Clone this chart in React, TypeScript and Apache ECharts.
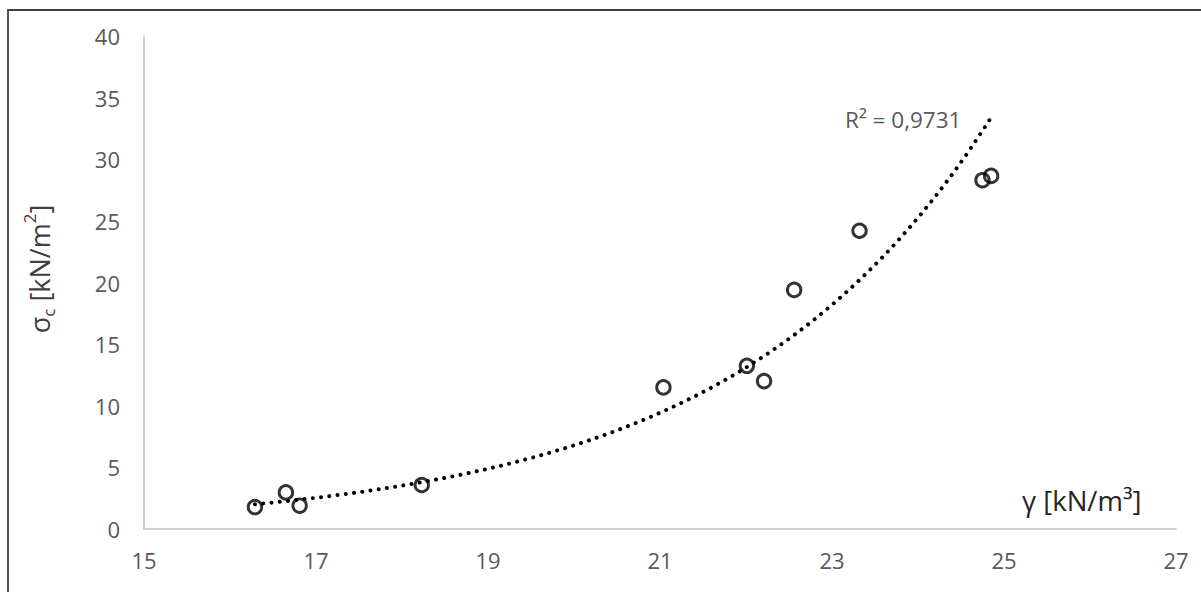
import React, { useEffect, useRef } from "react";
import * as echarts from "echarts";

// Measured data points (γ [kN/m³], σc [kN/m²])
const gammaValues = [16.29, 16.65, 16.81, 18.23, 21.04, 22.01, 22.21, 22.56, 23.32, 24.75, 24.85];
const sigmaValues = [1.78, 2.97, 1.89, 3.57, 11.49, 13.24, 12.0, 19.4, 24.2, 28.3, 28.65];

const xAxisRange = [15, 27];
const yAxisRange = [0, 40];
const xLabelValues = [15, 17, 19, 21, 23, 25, 27];
const yLabelStep = 5;

const rSquaredText = "R\u00B2 = 0,9731";
const xTitle = "\u03B3 [kN/m\u00B3]";

// Exponential trendline (least squares on ln y), as a spreadsheet computes it
function expFit(xs: number[], ys: number[]) {
  const n = xs.length;
  const ly = ys.map((v) => Math.log(v));
  const mx = xs.reduce((a, b) => a + b, 0) / n;
  const my = ly.reduce((a, b) => a + b, 0) / n;
  let sxy = 0;
  let sxx = 0;
  for (let i = 0; i < n; i++) {
    sxy += (xs[i] - mx) * (ly[i] - my);
    sxx += (xs[i] - mx) * (xs[i] - mx);
  }
  const b = sxy / sxx;
  const a = Math.exp(my - b * mx);
  return { a, b };
}

export default function App() {
  const ref = useRef<HTMLDivElement>(null);

  useEffect(() => {
    if (!ref.current) return;
    const chart = echarts.init(ref.current, undefined, { renderer: "svg" });

    const points = gammaValues.map((g, i) => [g, sigmaValues[i]]);
    const { a, b } = expFit(gammaValues, sigmaValues);
    const x0 = Math.min(...gammaValues);
    const x1 = Math.max(...gammaValues);
    const steps = 120;
    const trend: number[][] = [];
    for (let i = 0; i <= steps; i++) {
      const x = x0 + ((x1 - x0) * i) / steps;
      trend.push([x, a * Math.exp(b * x)]);
    }

    const font = "'Open Sans', 'Noto Sans', sans-serif";

    chart.setOption({
      animation: false,
      backgroundColor: "#ffffff",
      grid: { left: 144, right: 25, top: 36, bottom: 63, containLabel: false },
      xAxis: {
        type: "value",
        min: xAxisRange[0],
        max: xAxisRange[1],
        interval: 1,
        splitLine: { show: false },
        axisTick: { show: false },
        axisLine: { show: true, onZero: false, lineStyle: { color: "#c0c0c0", width: 1.5 } },
        axisLabel: {
          color: "#595959",
          fontFamily: font,
          fontSize: 22,
          margin: 20,
          formatter: (v: number) => (xLabelValues.indexOf(v) >= 0 ? String(v) : ""),
        },
      },
      yAxis: {
        type: "value",
        min: yAxisRange[0],
        max: yAxisRange[1],
        interval: yLabelStep,
        splitLine: { show: false },
        axisTick: { show: false },
        axisLine: { show: true, lineStyle: { color: "#c0c0c0", width: 1.5 } },
        axisLabel: {
          color: "#595959",
          fontFamily: font,
          fontSize: 22,
          margin: 24,
        },
      },
      series: [
        {
          type: "scatter",
          data: points,
          symbol: "circle",
          symbolSize: 13.5,
          itemStyle: { color: "rgba(0,0,0,0)", borderColor: "#000000", borderWidth: 2.9 },
          z: 2,
        },
        {
          type: "line",
          data: trend,
          showSymbol: false,
          symbol: "none",
          smooth: false,
          lineStyle: { color: "#000000", width: 4, type: [0.01, 8.3], cap: "round" },
          z: 3,
        },
      ],
      graphic: [
        {
          type: "rect",
          shape: { x: 8, y: 10, width: 1200, height: 600 },
          style: { fill: "none", stroke: "#404040", lineWidth: 1.8 },
          silent: true,
        },
        {
          type: "text",
          x: 39,
          y: 269,
          rotation: Math.PI / 2,
          style: {
            text: "{a|\u03C3}{s|c}{a| [kN/m}{p|2}{a|]}",
            align: "center",
            verticalAlign: "middle",
            fill: "#404040",
            rich: {
              a: { fontSize: 27, fontFamily: font, fill: "#404040", lineHeight: 36, verticalAlign: "middle" },
              s: { fontSize: 17, fontFamily: font, fill: "#404040", lineHeight: 30, verticalAlign: "bottom" },
              p: { fontSize: 17, fontFamily: font, fill: "#404040", lineHeight: 30, verticalAlign: "top" },
            },
          },
        },
        {
          type: "text",
          x: 1022,
          y: 500,
          style: {
            text: xTitle,
            fontFamily: font,
            fontSize: 27.5,
            fill: "#262626",
            align: "left",
            verticalAlign: "middle",
          },
        },
        {
          type: "text",
          x: 845,
          y: 119,
          style: {
            text: rSquaredText,
            fontFamily: font,
            fontSize: 22.5,
            fill: "#595959",
            align: "left",
            verticalAlign: "middle",
          },
        },
      ],
    });

    return () => {
      chart.dispose();
    };
  }, []);

  return (
    <div
      ref={ref}
      style={{ position: "absolute", left: 0, top: 0, width: 1201, height: 592 }}
    />
  );
}
